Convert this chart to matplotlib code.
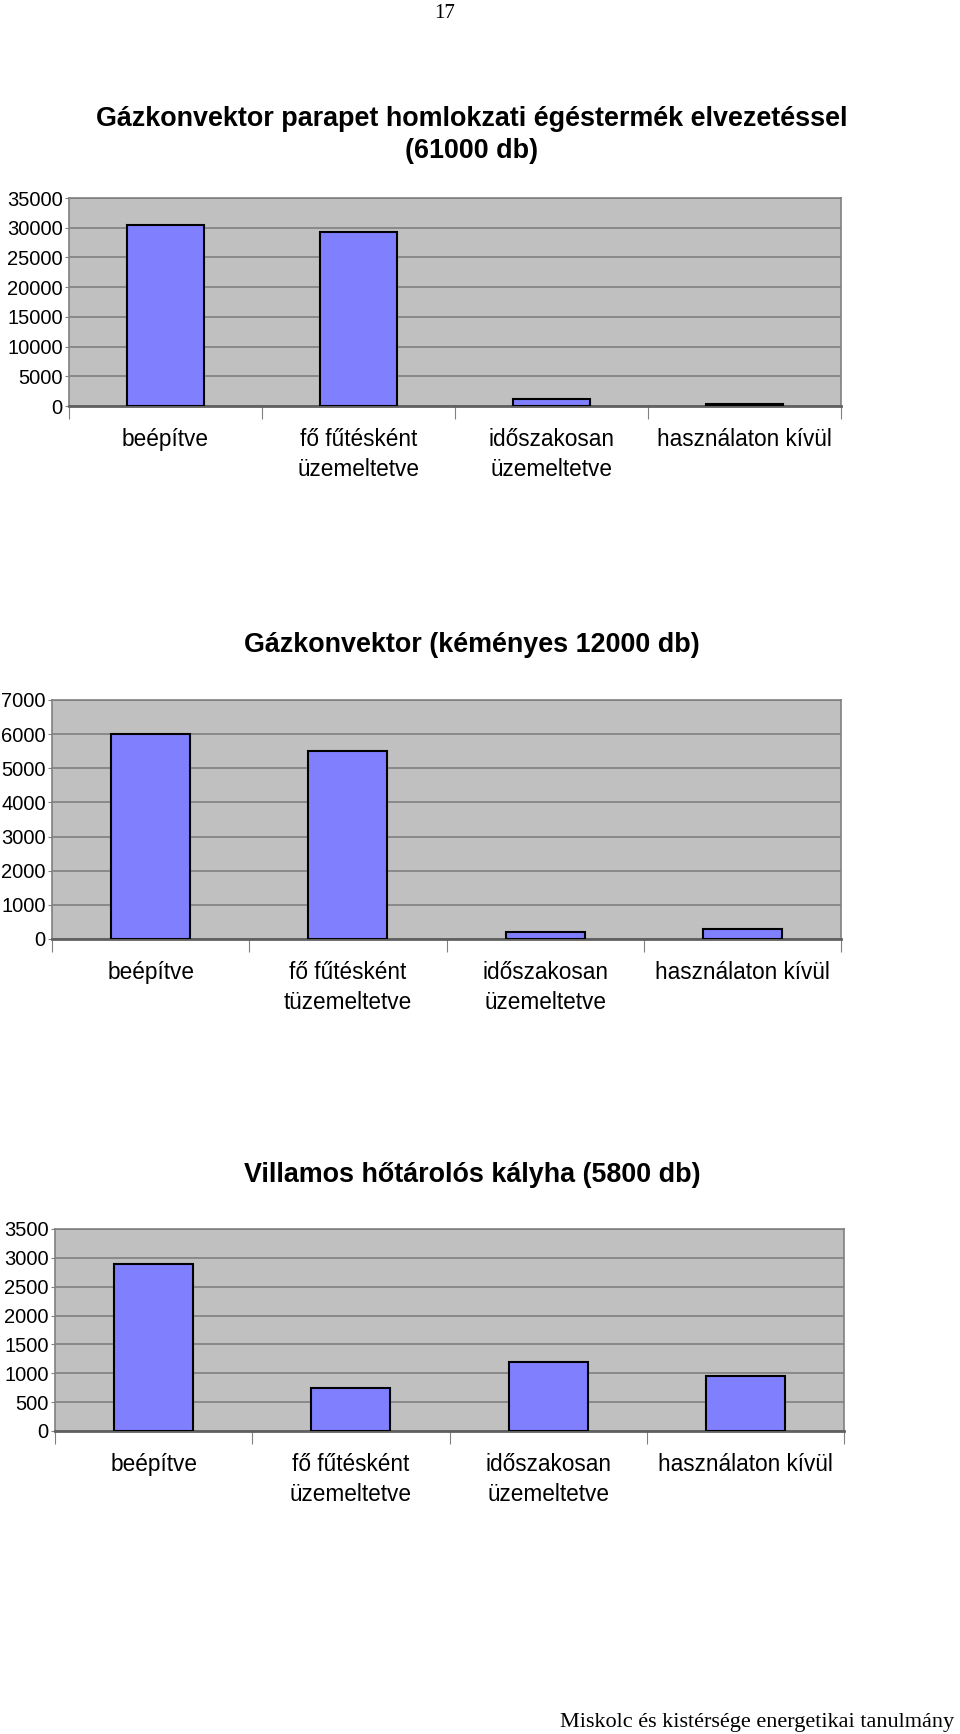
import matplotlib.pyplot as plt
from matplotlib.ticker import FixedLocator, NullFormatter

# --- Data ---
CATEGORIES_A = ['beépítve', 'fő fűtésként\nüzemeltetve', 'időszakosan\nüzemeltetve', 'használaton kívül']
CATEGORIES_B = ['beépítve', 'fő fűtésként\ntüzemeltetve', 'időszakosan\nüzemeltetve', 'használaton kívül']

PARAPET_VALUES = [30500, 29200, 1100, 400]
KEMENYES_VALUES = [6000, 5500, 200, 300]
VILLAMOS_VALUES = [2900, 750, 1200, 950]

PARAPET_TICKS = [0, 5000, 10000, 15000, 20000, 25000, 30000, 35000]
KEMENYES_TICKS = [0, 1000, 2000, 3000, 4000, 5000, 6000, 7000]
VILLAMOS_TICKS = [0, 500, 1000, 1500, 2000, 2500, 3000, 3500]

TITLES = [
    'Gázkonvektor parapet homlokzati égéstermék elvezetéssel\n(61000 db)',
    'Gázkonvektor (kéményes 12000 db)',
    'Villamos hőtárolós kályha (5800 db)',
]

# --- Style ---
W, H = 960, 1734
BAR_COLOR = '#8080FF'
BG_COLOR = '#C0C0C0'
GRID_COLOR = '#808080'
SANS = 'Liberation Sans'
SERIF = 'Liberation Serif'

fig = plt.figure(figsize=(W / 100, H / 100), dpi=100)


def add_chart(left, right, top, bottom, values, ticks, labels, title, title_y):
    """One bar chart, positions given in pixels from the top-left corner."""
    ax = fig.add_axes([left / W, 1 - bottom / H, (right - left) / W, (bottom - top) / H])
    ax.set_facecolor(BG_COLOR)
    x = range(len(values))
    ax.bar(x, values, width=0.4, color=BAR_COLOR, edgecolor='black', linewidth=1.5, zorder=3)
    ax.set_xlim(-0.5, len(values) - 0.5)
    ax.set_ylim(ticks[0], ticks[-1])
    ax.set_yticks(ticks)
    ax.set_yticklabels([str(t) for t in ticks], fontsize=14.5, family=SANS)
    ax.yaxis.grid(True, color=GRID_COLOR, linewidth=1.2, zorder=1)
    ax.tick_params(axis='y', length=3, color=GRID_COLOR, pad=1.5)

    # category separators as major ticks, labels as minor ticks
    ax.xaxis.set_major_locator(FixedLocator([i - 0.5 for i in range(len(values) + 1)]))
    ax.xaxis.set_major_formatter(NullFormatter())
    ax.xaxis.set_minor_locator(FixedLocator(list(x)))
    ax.set_xticklabels(labels, minor=True, fontsize=16.3, family=SANS, linespacing=1.4)
    ax.tick_params(axis='x', which='major', length=9, color=GRID_COLOR, width=0.8)
    ax.tick_params(axis='x', which='minor', length=0, pad=16)

    for side in ['top', 'right', 'left']:
        ax.spines[side].set_color(GRID_COLOR)
        ax.spines[side].set_linewidth(1.2)
    ax.spines['bottom'].set_color('#606060')
    ax.spines['bottom'].set_linewidth(2)

    fig.text(472 / W, 1 - title_y / H, title, ha='center', va='center',
             fontsize=19.4, fontweight='bold', family=SANS, linespacing=1.27)
    return ax


add_chart(69, 841, 198, 406, PARAPET_VALUES, PARAPET_TICKS, CATEGORIES_A, TITLES[0], 135)
add_chart(52, 841, 700, 939, KEMENYES_VALUES, KEMENYES_TICKS, CATEGORIES_B, TITLES[1], 645)
add_chart(55, 844, 1229, 1431, VILLAMOS_VALUES, VILLAMOS_TICKS, CATEGORIES_A, TITLES[2], 1175)

# page number and footer
fig.text(445 / W, 1 - 13 / H, '17', ha='center', va='center', fontsize=15, family=SERIF)
fig.text(954 / W, 1 - 1723 / H, 'Miskolc és kistérsége energetikai tanulmány',
         ha='right', va='center', fontsize=16, family=SERIF)

plt.savefig('out.png', dpi=100)
